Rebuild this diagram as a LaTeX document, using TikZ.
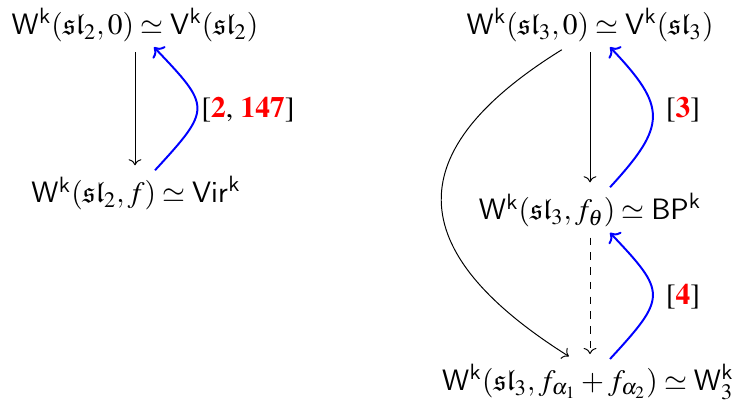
\documentclass[tikz,border=0pt]{standalone}
\usepackage[T1]{fontenc}
\usepackage{amsmath,amssymb}
\usepackage{mathptmx}
\usepackage[scaled=0.92]{helvet}
\usepackage{xcolor}
\usetikzlibrary{arrows.meta,calc}

\newcommand{\Wk}{\mathsf{W}^{\mathsf{k}}}
\newcommand{\rref}[1]{\textbf{\color{red}#1}}

\begin{document}
\begin{tikzpicture}[
    x=0.0143cm, y=-0.0143cm,
    obj/.style  = {inner sep=2pt, font=\large},
    fl/.style   = {-{To}, line width=0.4pt, shorten >=2pt, shorten <=2pt},
    flb/.style  = {-{To}, blue, line width=0.8pt},
    cit/.style  = {font=\large, inner sep=1pt},
  ]
  \useasboundingbox (0,0) rectangle (732,401);

  % left column
  \node[obj] (vsl2) at (135,25)  {$\Wk(\mathfrak{sl}_2,0)\simeq\mathsf{V}^{\mathsf{k}}(\mathfrak{sl}_2)$};
  \node[obj] (vir)  at (136,193) {$\Wk(\mathfrak{sl}_2,f)\simeq\mathsf{Vir}^{\mathsf{k}}$};

  \draw[fl] (vsl2.south) -- (vsl2.south |- vir.north);
  \draw[flb] ($(vir.north)+(19,0)$) .. controls +(57,-62) and +(57,60) .. ($(vsl2.south)+(19,0)$);
  \node[cit] (c1) at (248,110) {[\rref{2}, \rref{147}]};

  % right column
  \node[obj] (vsl3) at (590,25)  {$\Wk(\mathfrak{sl}_3,0)\simeq\mathsf{V}^{\mathsf{k}}(\mathfrak{sl}_3)$};
  \node[obj] (bp)   at (590,210) {$\Wk(\mathfrak{sl}_3,f_\theta)\simeq\mathsf{BP}^{\mathsf{k}}$};
  \node[obj] (w3)   at (588,382) {$\Wk(\mathfrak{sl}_3,f_{\alpha_1}+f_{\alpha_2})\simeq\mathsf{W}_3^{\mathsf{k}}$};

  \draw[fl] (vsl3.south) -- (vsl3.south |- bp.north);
  \draw[fl, dashed] (bp.south) -- (bp.south |- w3.north);
  \draw[fl] ($(vsl3.south)+(-24,0)$) .. controls (400,150) and (400,250) .. ($(w3.north)+(-15,0)$);

  \draw[flb] ($(bp.north)+(20,0)$) .. controls +(57,-62) and +(57,60) .. ($(vsl3.south)+(20,0)$);
  \draw[flb] ($(w3.north)+(22,0)$) .. controls +(57,-62) and +(57,60) .. ($(bp.south)+(20,0)$);
  \node[cit] (c2) at (683,110) {[\rref{3}]};
  \node[cit] (c3) at (683,297) {[\rref{4}]};
\end{tikzpicture}
\end{document}
